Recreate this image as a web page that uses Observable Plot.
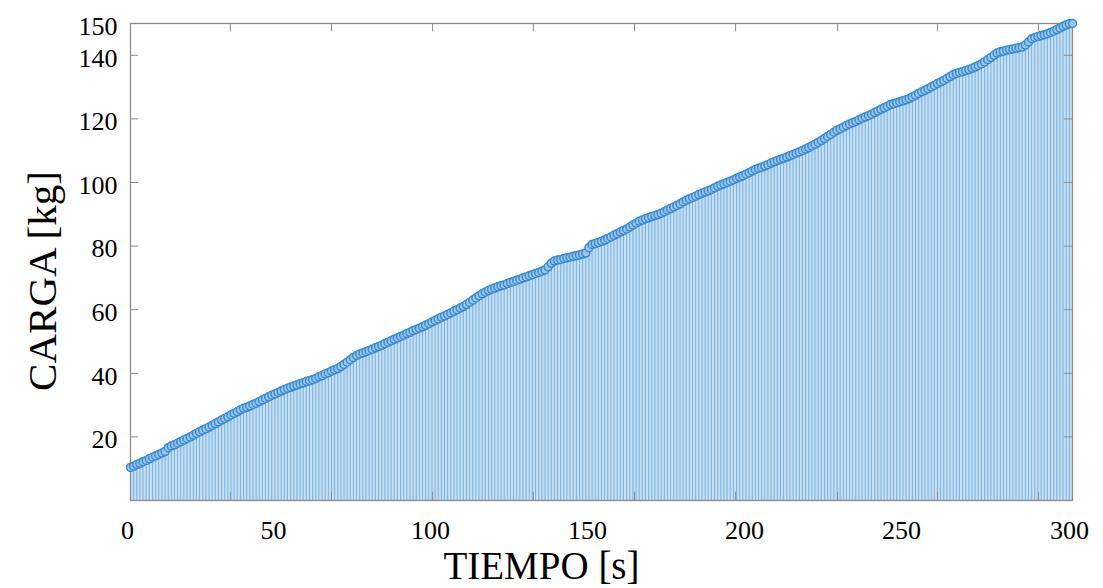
<!DOCTYPE html>
<html>
<head>
<meta charset="utf-8">
<script src="https://cdn.jsdelivr.net/npm/d3@7"></script>
<script src="https://cdn.jsdelivr.net/npm/@observablehq/plot@0.6"></script>
<style>
  html, body { margin: 0; padding: 0; background: #fff; }
  #chart svg { display: block; }
</style>
</head>
<body>
<div id="chart"></div>
<script>
const carga = [
  10.4, 10.8, 11.3, 11.7, 12.2, 12.6, 13.1, 13.6, 14.0, 14.5,
  14.9, 15.4, 16.6, 17.1, 17.5, 18.0, 18.5, 19.0, 19.5, 20.0,
  20.5, 21.1, 21.6, 22.1, 22.6, 23.1, 23.6, 24.2, 24.7, 25.3,
  25.8, 26.3, 26.9, 27.4, 27.9, 28.5, 29.0, 29.3, 29.7, 30.2,
  30.6, 31.1, 31.6, 32.1, 32.6, 33.1, 33.5, 34.0, 34.4, 34.9,
  35.3, 35.6, 36.0, 36.3, 36.7, 37.0, 37.4, 37.7, 38.0, 38.4,
  38.9, 39.3, 39.8, 40.2, 40.7, 41.1, 41.5, 42.1, 42.8, 43.5,
  44.3, 45.0, 45.6, 46.1, 46.4, 46.8, 47.2, 47.6, 48.0, 48.4,
  48.8, 49.3, 49.8, 50.2, 50.7, 51.1, 51.6, 52.0, 52.5, 52.9,
  53.4, 53.8, 54.2, 54.6, 55.1, 55.6, 56.1, 56.6, 57.1, 57.6,
  58.0, 58.5, 59.0, 59.5, 60.0, 60.5, 61.0, 61.6, 62.3, 63.0,
  63.7, 64.4, 65.0, 65.5, 66.0, 66.4, 66.8, 67.2, 67.5, 67.8,
  68.2, 68.6, 68.9, 69.3, 69.6, 70.0, 70.3, 70.7, 71.0, 71.4,
  71.7, 72.1, 72.5, 73.5, 74.6, 75.3, 75.6, 75.8, 76.1, 76.3,
  76.5, 76.8, 77.0, 77.2, 77.5, 77.8, 79.5, 80.5, 80.8, 81.1,
  81.5, 81.9, 82.4, 82.9, 83.4, 83.9, 84.4, 84.9, 85.4, 86.0,
  86.6, 87.2, 87.8, 88.2, 88.6, 88.9, 89.3, 89.6, 89.9, 90.3,
  90.8, 91.3, 91.8, 92.3, 92.8, 93.3, 93.9, 94.4, 94.9, 95.3,
  95.7, 96.2, 96.6, 97.0, 97.4, 97.8, 98.3, 98.8, 99.2, 99.6,
  100.0, 100.4, 100.8, 101.3, 101.7, 102.1, 102.6, 103.1, 103.6, 104.1,
  104.5, 104.8, 105.2, 105.6, 106.1, 106.5, 106.9, 107.3, 107.6, 108.0,
  108.4, 108.8, 109.2, 109.6, 110.1, 110.5, 111.0, 111.5, 112.0, 112.6,
  113.2, 113.8, 114.5, 115.1, 115.8, 116.4, 116.9, 117.4, 117.9, 118.4,
  118.8, 119.2, 119.7, 120.2, 120.6, 121.0, 121.5, 122.0, 122.5, 123.0,
  123.5, 124.0, 124.5, 124.8, 125.1, 125.4, 125.7, 126.0, 126.4, 126.9,
  127.4, 128.0, 128.5, 129.0, 129.5, 130.0, 130.5, 131.1, 131.6, 132.1,
  132.7, 133.3, 133.9, 134.3, 134.6, 134.9, 135.2, 135.5, 135.9, 136.3,
  136.8, 137.3, 137.9, 138.6, 139.3, 140.0, 140.7, 141.1, 141.3, 141.6,
  141.8, 142.0, 142.2, 142.4, 142.6, 143.2, 144.2, 145.2, 145.6, 145.9,
  146.2, 146.5, 146.8, 147.2, 147.6, 148.1, 148.6, 149.1, 149.5, 149.9,
  150.0
];
const tiempo = carga.map((_, i) => i);           // seconds
const xEndLabels = [0, 300];
const xInnerLabels = [50, 100, 150, 200, 250];
const yTickLabels = [20, 40, 60, 80, 100, 120, 140, 150];
const yTickMarks = [20, 40, 60, 80, 100, 120, 140];
const frameTicksX = [31.8, 64.0, 96.2, 128.3, 160.5, 192.7, 225.2, 257.0, 289.2];
const xTitle = "TIEMPO [s]";
const yTitle = "CARGA [kg]";

const data = tiempo.map((t, i) => ({t, v: carga[i]}));
const serif = "'Liberation Serif', 'Times New Roman', serif";
const frameColor = "#8c8c8c";

const chart = Plot.plot({
  width: 1103,
  height: 588,
  marginLeft: 130,
  marginRight: 31,
  marginTop: 23,
  marginBottom: 88,
  x: {domain: [0, 300], axis: null},
  y: {domain: [0, 150], axis: null},
  style: {fontFamily: serif, background: "#fff", overflow: "visible"},
  marks: [
    // stems
    Plot.areaY(data, {x: "t", y: "v", fill: "#c6dff3", curve: "step"}),
    Plot.ruleX(data, {x: "t", y1: 0, y2: "v", stroke: "#4f9ad8", strokeWidth: 1, strokeOpacity: 0.65}),
    // frame and ticks
    Plot.frame({stroke: frameColor, strokeWidth: 1.3}),
    Plot.ruleY(yTickMarks, {y: d => d, x1: 0, x2: 2.6, stroke: frameColor}),
    Plot.ruleY(yTickMarks, {y: d => d, x1: 297.4, x2: 300, stroke: frameColor}),
    Plot.ruleX(frameTicksX, {x: d => d, y1: 150, y2: 147.4, stroke: frameColor}),
    Plot.ruleX(frameTicksX, {x: d => d, y1: 0, y2: 2.6, stroke: frameColor}),
    // markers
    Plot.dot(data, {x: "t", y: "v", r: 4, stroke: "#3a8ad0", strokeWidth: 1.5, fill: "#9ac7ec"}),
    // tick labels
    Plot.text(yTickLabels, {x: 0, y: d => d, text: d => String(d), dx: -13, dy: 3,
      textAnchor: "end", fontSize: 26, fill: "#000"}),
    Plot.text(xEndLabels, {x: d => d, y: 0, text: d => String(d), dy: 30, dx: -3,
      fontSize: 26, fill: "#000"}),
    Plot.text(xInnerLabels, {x: d => d, y: 0, text: d => String(d), dy: 30, dx: -14,
      fontSize: 26, fill: "#000"}),
    // axis titles
    Plot.text([xTitle], {frameAnchor: "bottom", text: d => d, dx: -60, dy: 66,
      textAnchor: "middle", lineAnchor: "middle", fontSize: 39, fill: "#000"}),
    Plot.text([yTitle], {frameAnchor: "left", text: d => d, dx: -88, dy: 19, rotate: -90,
      textAnchor: "middle", lineAnchor: "middle", fontSize: 41, fill: "#000"})
  ]
});
document.getElementById("chart").append(chart);
</script>
</body>
</html>
